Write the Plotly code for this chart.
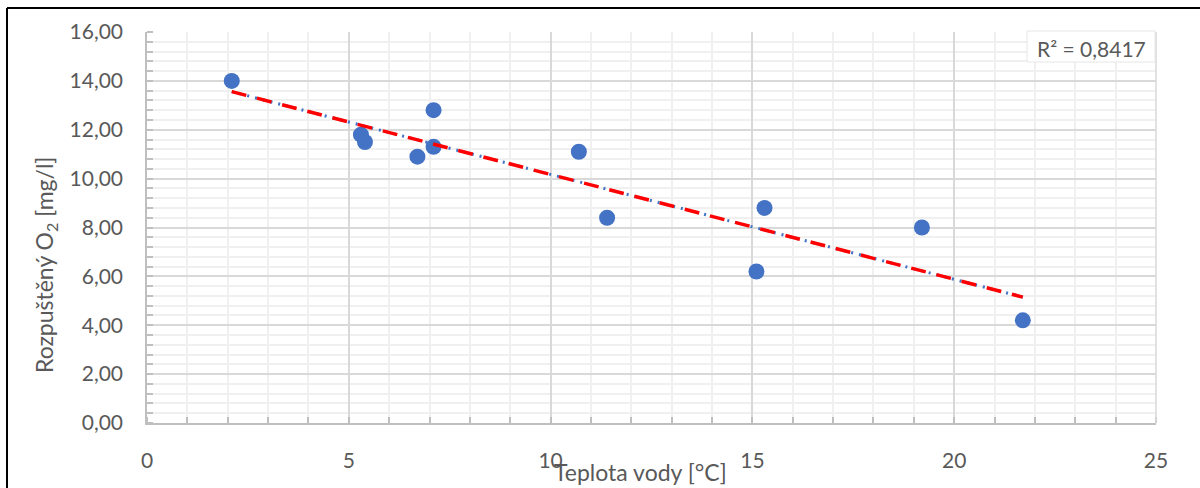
import numpy as np
import plotly.graph_objects as go

# Data
teplota = [2.1, 5.3, 5.4, 6.7, 7.1, 7.1, 10.7, 11.4, 15.1, 15.3, 19.2, 21.7]
kyslik = [14.0, 11.8, 11.5, 10.9, 12.8, 11.3, 11.1, 8.4, 6.2, 8.8, 8.0, 4.2]
x_ticks = [0, 5, 10, 15, 20, 25]
y_ticks = [0, 2, 4, 6, 8, 10, 12, 14, 16]
r2_label = "R² = 0,8417"
x_title = "Teplota vody [°C]"
y_title = "Rozpuštěný O<sub>2</sub> [mg/l]"

# Linear trendline (least squares) from the data
slope, intercept = np.polyfit(teplota, kyslik, 1)
tx = [min(teplota), max(teplota)]
ty = [slope * v + intercept for v in tx]

FONT = "Lato"
GREY = "#595959"

fig = go.Figure()
fig.add_trace(go.Scatter(x=teplota, y=kyslik, mode="markers",
                         marker=dict(size=16, color="#4472C4"), showlegend=False))
fig.add_trace(go.Scatter(x=tx, y=ty, mode="lines",
                         line=dict(color="#4472C4", width=3, dash="2px,6px"),
                         showlegend=False))
fig.add_trace(go.Scatter(x=tx, y=ty, mode="lines",
                         line=dict(color="#FF0000", width=3.5, dash="15px,11px"),
                         showlegend=False))

# plot area: left 147, right 1156, top 32, bottom 423
L, R, T, B = 147, 1156, 32, 423
W, H = R - L, B - T
def px(x):
    return (x - L) / W
def py(y):
    return (B - y) / H

fig.update_layout(
    width=1200, height=488,
    margin=dict(l=L, r=1200 - R, t=T, b=488 - B),
    paper_bgcolor="white", plot_bgcolor="white",
    separators=", ",
    font=dict(family=FONT, color=GREY, size=21),
    xaxis=dict(range=[0, 25], tickvals=x_ticks, tickformat="d",
               showgrid=True, gridcolor="#d9d9d9", gridwidth=1.5,
               showline=True, linecolor="#bfbfbf", linewidth=1.5, mirror=False,
               zeroline=False, ticks="", ticklabelstandoff=18,
               minor=dict(dtick=1, showgrid=True, gridcolor="#f0f0f0", gridwidth=1.5,
                          ticks="inside", ticklen=6, tickcolor="#bfbfbf", tickwidth=1.5),
               tickfont=dict(family=FONT, size=21, color=GREY)),
    yaxis=dict(range=[0, 16], tickvals=y_ticks, tickformat=".2f",
               showgrid=True, gridcolor="#d9d9d9", gridwidth=1.5,
               showline=True, linecolor="#bfbfbf", linewidth=1.5,
               zeroline=False, ticks="", ticklabelstandoff=18,
               minor=dict(dtick=0.4, showgrid=True, gridcolor="#f0f0f0", gridwidth=1.5,
                          ticks="inside", ticklen=6, tickcolor="#bfbfbf", tickwidth=1.5),
               tickfont=dict(family=FONT, size=21, color=GREY)),
    shapes=[
        dict(type="line", xref="paper", yref="paper", x0=px(7), x1=px(7), y0=py(500), y1=py(8),
             line=dict(color="black", width=2)),
        dict(type="line", xref="paper", yref="paper", x0=px(7), x1=px(1210), y0=py(8), y1=py(8),
             line=dict(color="black", width=2)),
        dict(type="line", xref="paper", yref="paper", x0=1, x1=1, y0=0, y1=1,
             line=dict(color="#d9d9d9", width=1.5)),
        dict(type="rect", xref="paper", yref="paper", x0=px(1027), x1=px(1155), y0=py(62), y1=py(31),
             fillcolor="white", line=dict(color="#e6e6e6", width=1)),
    ],
    annotations=[
        dict(text=r2_label, xref="paper", yref="paper", x=px(1091), y=py(48),
             showarrow=False, xanchor="center", yanchor="middle",
             font=dict(family=FONT, size=21, color=GREY)),
        dict(text=x_title, xref="paper", yref="paper", x=px(640), y=py(472),
             showarrow=False, xanchor="center", yanchor="middle",
             font=dict(family=FONT, size=23, color=GREY)),
        dict(text=y_title, xref="paper", yref="paper", x=px(45), y=py(265),
             showarrow=False, xanchor="center", yanchor="middle", textangle=-90,
             font=dict(family=FONT, size=23, color=GREY)),
    ],
)

fig.write_html("out.html", config={"displayModeBar": False},
               post_script="document.body.style.margin='0';")
